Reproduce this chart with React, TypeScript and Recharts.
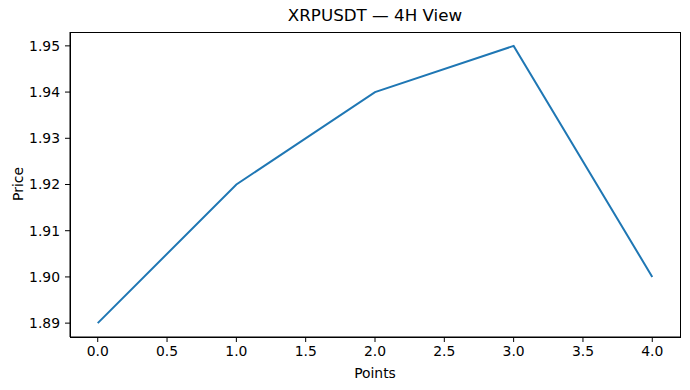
import { LineChart, Line, XAxis, YAxis } from "recharts";

const points = [0, 1, 2, 3, 4];
const prices = [1.89, 1.92, 1.94, 1.95, 1.9];
const xTicks = [0, 0.5, 1, 1.5, 2, 2.5, 3, 3.5, 4];
const yTicks = [1.89, 1.9, 1.91, 1.92, 1.93, 1.94, 1.95];

const data = points.map((p, i) => ({ point: p, price: prices[i] }));

const font = "'DejaVu Sans', sans-serif";
const tickStyle = { fill: "#000", fontSize: 13.9, fontFamily: font };

export default function App() {
  return (
    <div style={{ position: "absolute", left: 0, top: 0, width: 690, height: 390, background: "#fff", fontFamily: font }}>
      <div style={{ position: "absolute", left: 0, width: 750, top: 5, textAlign: "center", fontSize: 16.7, color: "#000", lineHeight: "20px" }}>
        XRPUSDT — 4H View
      </div>
      <div
        style={{
          position: "absolute",
          left: 18,
          top: 184,
          fontSize: 13.9,
          color: "#000",
          transform: "translate(-50%, -50%) rotate(-90deg)",
          whiteSpace: "nowrap",
        }}
      >
        Price
      </div>
      <div style={{ position: "absolute", left: 0, width: 750, top: 364, textAlign: "center", fontSize: 13.9, color: "#000", lineHeight: "18px" }}>
        Points
      </div>
      <LineChart width={690} height={390} data={data} margin={{ top: 32, right: 10, bottom: 0, left: 0 }}>
        <XAxis
          dataKey="point"
          type="number"
          domain={[-0.2, 4.2]}
          ticks={xTicks}
          tickFormatter={(v: number) => v.toFixed(1)}
          height={53}
          tickSize={5}
          tickMargin={4}
          stroke="#000"
          tick={tickStyle}
          axisLine={{ stroke: "#000", strokeWidth: 1 }}
          tickLine={{ stroke: "#000" }}
          allowDataOverflow
        />
        <YAxis
          type="number"
          domain={[1.887, 1.953]}
          ticks={yTicks}
          tickFormatter={(v: number) => v.toFixed(2)}
          width={70}
          tickSize={5}
          tickMargin={5}
          stroke="#000"
          tick={tickStyle}
          axisLine={{ stroke: "#000", strokeWidth: 1 }}
          tickLine={{ stroke: "#000" }}
          allowDataOverflow
        />
        <Line
          type="linear"
          dataKey="price"
          stroke="#1f77b4"
          strokeWidth={2}
          dot={false}
          isAnimationActive={false}
        />
      </LineChart>
      <div
        style={{
          position: "absolute",
          left: 70,
          top: 32,
          width: 611,
          height: 306,
          boxSizing: "border-box",
          border: "1px solid #000",
          pointerEvents: "none",
        }}
      />
    </div>
  );
}
